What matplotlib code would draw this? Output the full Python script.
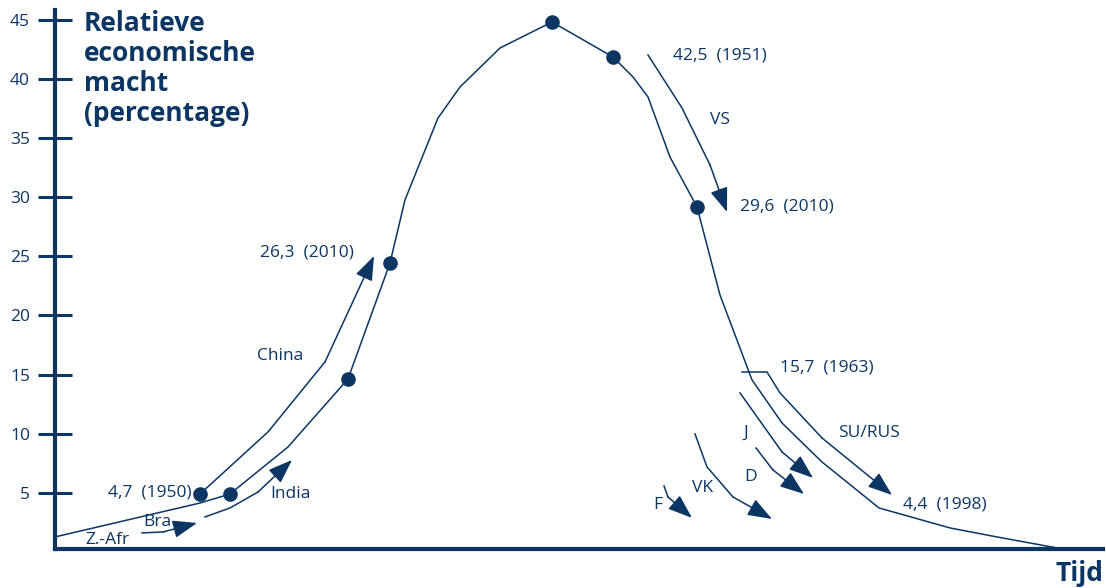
import numpy as np
import matplotlib as mpl
import matplotlib.pyplot as plt

mpl.rcParams['font.family'] = ['Open Sans', 'DejaVu Sans']
blauw = '#0b3563'

# grote curve (tijd in willekeurige eenheden, macht in %)
tijd = [0, 145, 175, 233, 293, 335, 350, 360, 383, 405, 445, 497, 558, 578,
        593, 615, 642, 665, 697, 727, 767, 824, 895, 942, 1002]
macht = [1.27, 4.14, 4.90, 8.88, 14.63, 24.44, 29.77, 31.88, 36.70, 39.32, 42.62,
         44.82, 41.86, 40.17, 38.48, 33.40, 29.18, 21.73, 14.55, 10.91, 7.61,
         3.72, 2.03, 1.27, 0.34]

# punten op de curves
punt_t = [145, 175, 293, 335, 497, 558, 642]
punt_m = [4.90, 4.90, 14.63, 24.44, 44.82, 41.86, 29.18]

# pijlen per land
pijlen = {
    'China': ([145, 213, 270, 319], [4.90, 10.15, 16.07, 25.03]),
    'India': ([150, 175, 203, 237], [2.96, 3.72, 5.07, 7.78]),
    'Bra': ([87, 108, 142], [1.61, 1.69, 2.45]),
    'VS': ([593, 627, 655, 672], [42.03, 37.55, 32.73, 28.75]),
    'SU/RUS': ([687, 712, 725, 767, 837], [15.22, 15.22, 13.45, 9.64, 4.82]),
    'J': ([685, 727, 758], [13.45, 8.46, 6.26]),
    'D': ([701, 718, 749], [8.79, 6.93, 4.90]),
    'VK': ([640, 652, 678, 717], [9.98, 7.19, 4.65, 2.79]),
    'F': ([609, 613, 637], [5.58, 4.65, 2.88]),
}

labels = [
    ('4,7  (1950)', 137, 5.07, 'right'),
    ('Bra', 88, 2.54, 'left'),
    ('Z.-Afr', 30, 1.0, 'left'),
    ('India', 215, 4.9, 'left'),
    ('China', 202, 16.6, 'left'),
    ('26,3  (2010)', 205, 25.3, 'left'),
    ('42,5  (1951)', 618, 42.0, 'left'),
    ('VS', 655, 36.5, 'left'),
    ('29,6  (2010)', 685, 29.2, 'left'),
    ('15,7  (1963)', 725, 15.6, 'left'),
    ('SU/RUS', 783, 10.1, 'left'),
    ('J', 688, 10.1, 'left'),
    ('D', 689, 6.3, 'left'),
    ('VK', 637, 5.4, 'left'),
    ('F', 598, 4.0, 'left'),
    ('4,4  (1998)', 848, 4.0, 'left'),
]

fig = plt.figure(figsize=(11.06, 5.88), dpi=100)
ax = fig.add_axes([55 / 1106, 39 / 588, 1048 / 1106, 538.6 / 588])
ax.set_xlim(0, 1048)
ax.set_ylim(0.25, 45.8)

ax.plot(tijd, macht, color=blauw, lw=1.1)
ax.plot(punt_t, punt_m, 'o', color=blauw, ms=9.5)

for naam, (xs, ys) in pijlen.items():
    ax.plot(xs[:-1], ys[:-1], color=blauw, lw=1.1)
    ax.annotate('', xy=(xs[-1], ys[-1]), xytext=(xs[-2], ys[-2]),
                arrowprops=dict(arrowstyle='-|>,head_length=0.6,head_width=0.22',
                                color=blauw, lw=1.1, mutation_scale=25,
                                shrinkA=0, shrinkB=0))

for tekst, x, y, ha in labels:
    ax.text(x, y, tekst, ha=ha, va='center', fontsize=12.5, color=blauw)

for s in ['top', 'right']:
    ax.spines[s].set_visible(False)
for s in ['left', 'bottom']:
    ax.spines[s].set_linewidth(3)
    ax.spines[s].set_color(blauw)

ax.set_xticks([])
ax.set_yticks([5, 10, 15, 20, 25, 30, 35, 40, 45])
ax.tick_params(axis='y', direction='inout', length=24, width=2.2, color=blauw,
               labelcolor=blauw, labelsize=12.5, pad=6)

fig.text(84 / 1106, 1 - 10 / 588, 'Relatieve\neconomische\nmacht\n(percentage)',
         ha='left', va='top', fontsize=19, fontweight='bold', color=blauw,
         linespacing=1.15)
fig.text(1103 / 1106, 1 - 581 / 588, 'Tijd', ha='right', va='baseline',
         fontsize=19, fontweight='bold', color=blauw)

fig.savefig('out.png', dpi=100)
